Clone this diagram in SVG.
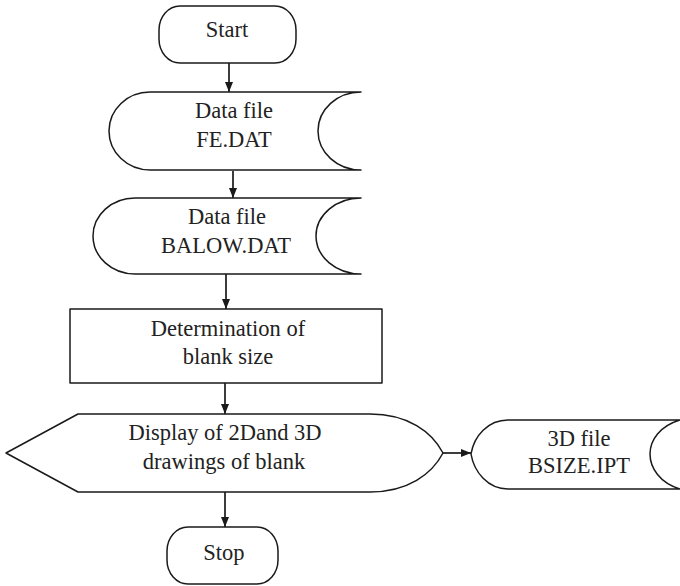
<svg xmlns="http://www.w3.org/2000/svg" width="680" height="586" viewBox="0 0 680 586">
  <defs>
    <marker id="arrow" markerUnits="userSpaceOnUse" markerWidth="10" markerHeight="8" refX="10" refY="4" orient="auto">
      <path d="M0,0 L10,4 L0,8 z" fill="#1a1a1a"/>
    </marker>
    <style>
      .shape { fill: #ffffff; stroke: #1a1a1a; stroke-width: 1.5; stroke-linejoin: round; }
      .label { font-size: 22.5px; fill: #222222; text-anchor: middle; }
      .flow { stroke: #1a1a1a; stroke-width: 1.7; fill: none; marker-end: url(#arrow); }
    </style>
  </defs>
  <rect width="680" height="586" fill="#ffffff"/>

  <g id="connectors">
    <line class="flow" x1="229" y1="63" x2="229" y2="92"/>
    <line class="flow" x1="233" y1="171" x2="233" y2="198"/>
    <line class="flow" x1="226" y1="274" x2="226" y2="309"/>
    <line class="flow" x1="225" y1="383" x2="225" y2="414"/>
    <line class="flow" x1="225" y1="492" x2="225" y2="527"/>
    <line class="flow" x1="443" y1="453" x2="471" y2="453"/>
  </g>

  <g font-family="Liberation Serif, DejaVu Serif, serif">
    <g id="start">
      <rect class="shape" x="159" y="6" width="137" height="57" rx="21" ry="24"/>
      <text class="label" x="227" y="37">Start</text>
    </g>

    <g id="fe-dat">
      <path class="shape" d="M150,92 L361,92 A43,39 0 0 0 361,170 L150,170 A41,39 0 0 1 150,92 Z"/>
      <text class="label" x="234" y="118">Data file</text>
      <text class="label" x="234" y="147">FE.DAT</text>
    </g>

    <g id="balow-dat">
      <path class="shape" d="M135,198 L361,198 A45,38 0 0 0 361,274 L135,274 A42,38 0 0 1 135,198 Z"/>
      <text class="label" x="227" y="224">Data file</text>
      <text class="label" x="226" y="253">BALOW.DAT</text>
    </g>

    <g id="blank-size">
      <rect class="shape" x="70" y="309" width="312" height="74"/>
      <text class="label" x="228" y="336">Determination of</text>
      <text class="label" x="228" y="364">blank size</text>
    </g>

    <g id="display">
      <path class="shape" d="M6,453 L78,414 L370,414 C408,414 432,432 443,453 C432,474 408,492 370,492 L78,492 Z"/>
      <text class="label" x="225" y="440">Display of 2Dand 3D</text>
      <text class="label" x="224" y="469">drawings of blank</text>
    </g>

    <g id="bsize-ipt">
      <path class="shape" d="M508,420 L680,420 C660,426 650,440 650,454 C650,468 660,483 680,489 L508,489 C488,489 474,472 471,454 C474,436 488,420 508,420 Z"/>
      <text class="label" x="579" y="446">3D file</text>
      <text class="label" x="579" y="473">BSIZE.IPT</text>
    </g>

    <g id="stop">
      <rect class="shape" x="167" y="527" width="111" height="57" rx="21" ry="24"/>
      <text class="label" x="224" y="560">Stop</text>
    </g>
  </g>
</svg>
